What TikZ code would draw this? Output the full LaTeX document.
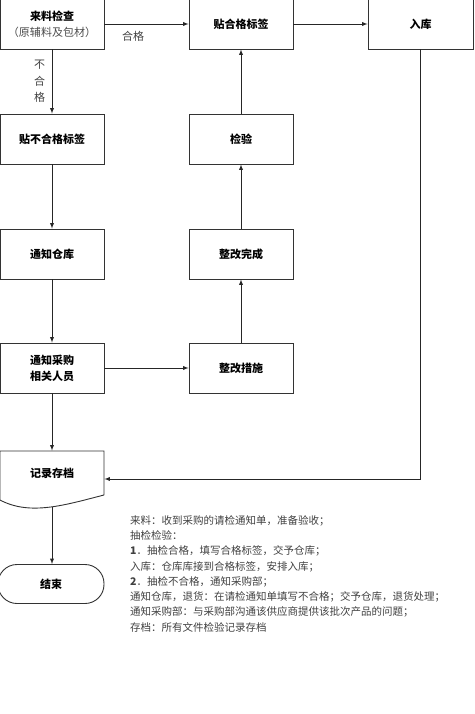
\documentclass[tikz,border=0pt]{standalone}
\usepackage{fontspec}
\setmainfont{Noto Sans CJK SC}
\begin{document}
\begin{tikzpicture}[x=1pt,y=-1pt,>=latex,
                box/.style={draw=black!80,line width=0.9pt,minimum width=104pt,minimum height=50pt,
                        align=center,font=\fontsize{11}{16}\selectfont\bfseries},
                conn/.style={->,black!85,line width=0.9pt},
                note/.style={font=\fontsize{11}{16.5}\selectfont,text=black!75,align=center}]
                \useasboundingbox (0,0) rectangle (474,714);
                % left column
                \node[box] (check) at (52,24) {来料检查\\{\mdseries\color{black!70}（原辅料及包材）}};
                \node[box] (reject) at (52,139) {贴不合格标签};
                \node[box] (notify) at (52,254) {通知仓库};
                \node[box] (purchase) at (52,368) {通知采购\\相关人员};
                \node[box,draw=none,minimum height=44pt] (record) at (52,473) {记录存档};
                \draw[black!80,line width=0.9pt] (104,495) -- (104,451) -- (0,451) -- (0,500)
                        .. controls (30,516) and (65,505) .. (104,495);
                \coordinate (recbot) at (52,507);
                \node[box,minimum height=39pt,minimum width=106pt,rounded corners=19pt] (stop) at (51,584) {结束};
                % right columns
                \node[box] (pass) at (241,24) {贴合格标签};
                \node[box] (inspect) at (241,139) {检验};
                \node[box] (done) at (241,254) {整改完成};
                \node[box] (fix) at (241,368) {整改措施};
                \node[box,minimum width=105pt] (store) at (420.5,24) {入库};
                % connectors
                \draw[conn] (check) -- (pass) node[note,pos=0.34,below=3pt] {合格};
                \draw[conn] (pass) -- (store);
                \draw[conn] (check) -- (reject) node[note,midway,left=3pt] {不\\合\\格};
                \draw[conn] (reject) -- (notify);
                \draw[conn] (notify) -- (purchase);
                \draw[conn] (purchase) -- (fix);
                \draw[conn] (purchase) -- (record.north);
                \draw[conn] (fix) -- (done);
                \draw[conn] (done) -- (inspect);
                \draw[conn] (inspect) -- (pass);
                \draw[conn] (store.south) |- ([yshift=-6pt]record.east);
                \draw[conn] (recbot) -- (recbot |- stop.north);
                % notes
                \node[anchor=north west,inner sep=0pt,align=left,text=black!75,
                        font=\fontsize{10.5}{15.3}\selectfont] (notes) at (130,515) {%
                        来料：收到采购的请检通知单，准备验收；\\
                        抽检检验：\\
                        \textbf{1}．抽检合格，填写合格标签，交予仓库；\\
                        入库：仓库库接到合格标签，安排入库；\\
                        \textbf{2}．抽检不合格，通知采购部；\\
                        通知仓库，退货：在请检通知单填写不合格；交予仓库，退货处理；\\
                        通知采购部：与采购部沟通该供应商提供该批次产品的问题；\\
                        存档：所有文件检验记录存档};
            \end{tikzpicture}
\end{document}
